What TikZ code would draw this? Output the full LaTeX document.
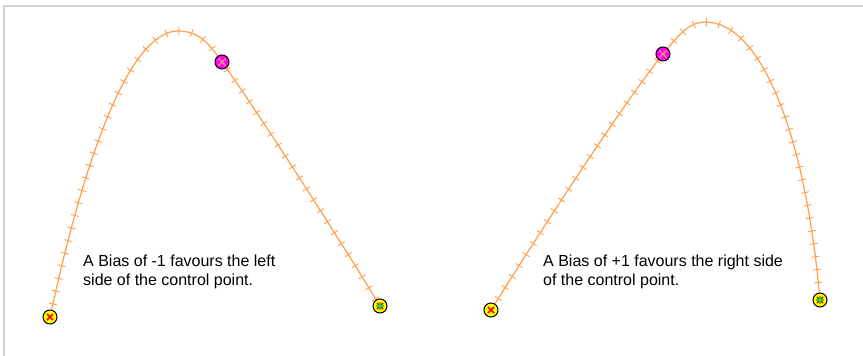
\documentclass[tikz,border=0pt]{standalone}
\usepackage{fontspec}
\setmainfont{Liberation Sans}
\usetikzlibrary{decorations.markings}
\definecolor{laranja}{HTML}{FF9F4A}
\definecolor{cinzaborda}{HTML}{D2D2D2}
\definecolor{amarelo}{HTML}{FFFF00}
\definecolor{magenta}{HTML}{FF00FF}
\definecolor{verde}{HTML}{22DD22}

\begin{document}
\begin{tikzpicture}[x=1pt, y=-1pt,
    curva/.style={draw=laranja, line width=1.2pt,
        postaction={decorate, decoration={markings,
            mark=between positions 0.02 and 1 step 13pt with {\draw[laranja, line width=0.9pt] (0,-4pt) -- (0,4pt);}}}},
    ponto/.style={circle, draw=black, line width=1pt, minimum size=14pt, inner sep=0pt},
    inicio/.style={ponto, fill=amarelo, path picture={
        \draw[red, line width=1.6pt, shift={(path picture bounding box.center)}] (-3pt,-3pt) -- (3pt,3pt) (-3pt,3pt) -- (3pt,-3pt);}},
    fim/.style={ponto, fill=amarelo, path picture={
        \draw[red, line width=1.6pt, shift={(path picture bounding box.center)}] (-3pt,-3pt) -- (3pt,3pt) (-3pt,3pt) -- (3pt,-3pt);
        \draw[verde, line width=1.4pt, shift={(path picture bounding box.center)}] (-4pt,0) -- (4pt,0) (0,-4pt) -- (0,4pt);}},
    controle/.style={ponto, fill=magenta, path picture={
        \draw[laranja, line width=1.2pt, shift={(path picture bounding box.center)}] (-3.5pt,-3.5pt) -- (3.5pt,3.5pt) (-3.5pt,3.5pt) -- (3.5pt,-3.5pt);}},
    nota/.style={anchor=north west, inner sep=0pt, align=left, font=\fontsize{16}{19}\selectfont}
]
    \useasboundingbox (0,0) rectangle (863,356);
    \draw[cinzaborda, line width=2pt] (4,356) -- (4,6) -- (863,6);

    \coordinate (a1) at (50,317);
    \coordinate (ac) at (222,62);
    \coordinate (a2) at (380,306);
    \coordinate (b1) at (491,310);
    \coordinate (bc) at (663,54);
    \coordinate (b2) at (820,300);

    \draw[curva] (a1) .. controls (95,110) and (140,31) .. (178,31)
        .. controls (200,31) and (210,45) .. (ac)
        .. controls (260,115) and (340,240) .. (a2);
    \draw[curva] (b1) .. controls (560,200) and (630,95) .. (bc)
        .. controls (680,33) and (690,22) .. (705,22)
        .. controls (760,22) and (805,130) .. (b2);

    \node[inicio] (pa1) at (a1) {};
    \node[controle] (pac) at (ac) {};
    \node[fim] (pa2) at (a2) {};
    \node[inicio] (pb1) at (b1) {};
    \node[controle] (pbc) at (bc) {};
    \node[fim] (pb2) at (b2) {};

    \node[nota] (textoa) at (83,255) {A Bias of -1 favours the left\\side of the control point.};
    \node[nota] (textob) at (543,255) {A Bias of +1 favours the right side\\of the control point.};
\end{tikzpicture}
\end{document}
